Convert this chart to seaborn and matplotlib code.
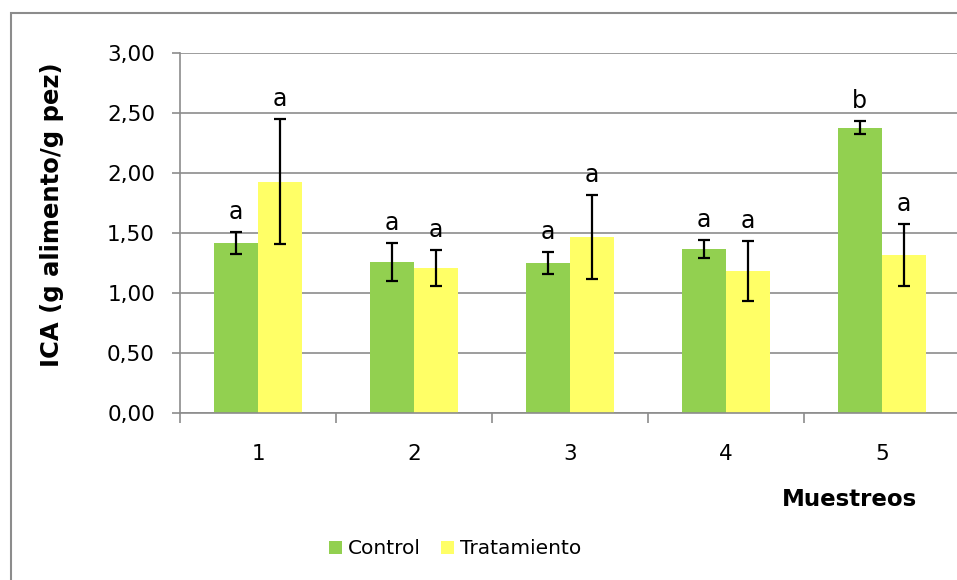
import pandas as pd
import matplotlib
matplotlib.use("Agg")
import matplotlib.pyplot as plt
import seaborn as sns
from matplotlib.patches import Rectangle
from matplotlib.ticker import FuncFormatter, MultipleLocator, FixedLocator

# data
muestreos = ["1", "2", "3", "4", "5"]
control = [1.42, 1.26, 1.25, 1.37, 2.38]
control_err = [0.09, 0.16, 0.09, 0.075, 0.053]
tratamiento = [1.93, 1.21, 1.47, 1.185, 1.32]
tratamiento_err = [0.52, 0.15, 0.35, 0.25, 0.26]
letras_control = ["a", "a", "a", "a", "b"]
letras_tratamiento = ["a", "a", "a", "a", "a"]
grupos = ["Control", "Tratamiento"]
colores = ["#92D050", "#FFFF66"]

df = pd.DataFrame({
    "muestreo": muestreos * 2,
    "grupo": [grupos[0]] * 5 + [grupos[1]] * 5,
    "ica": control + tratamiento,
})

sns.set_style("white")
plt.rcParams["font.family"] = ["DejaVu Sans"]
plt.rcParams["text.color"] = "black"
plt.rcParams["xtick.color"] = "black"
plt.rcParams["ytick.color"] = "black"
plt.rcParams["axes.labelcolor"] = "black"

fig = plt.figure(figsize=(9.57, 5.8), dpi=100)
W, H = 957, 580
ax = fig.add_axes([180 / W, 1 - 413.3 / H, 780 / W, 360 / H])

sns.barplot(data=df, x="muestreo", y="ica", hue="grupo", palette=colores,
            width=0.57, gap=0, saturation=1, errorbar=None, linewidth=0, ax=ax)

# error bars and significance letters on top of each bar
errs = [control_err, tratamiento_err]
letras = [letras_control, letras_tratamiento]
for cont, err, let in zip(ax.containers, errs, letras):
    for bar, e, l in zip(cont.patches, err, let):
        xc = bar.get_x() + bar.get_width() / 2
        h = bar.get_height()
        ax.errorbar(xc, h, yerr=e, fmt="none", ecolor="black", elinewidth=1.6,
                    capsize=4.5, capthick=1.6, zorder=4)
        ax.annotate(l, (xc, h + e), xytext=(0, 9.5), textcoords="offset points",
                    ha="center", va="baseline", fontsize=17)

ax.set_ylim(0, 3)
ax.set_xlim(-0.5, 4.5)
ax.yaxis.set_major_locator(MultipleLocator(0.5))
ax.yaxis.set_major_formatter(FuncFormatter(lambda v, p: f"{v:.2f}".replace(".", ",")))
ax.grid(axis="y", color="#8c8c8c", linewidth=1.2)
ax.set_axisbelow(True)

for s in ["top", "right"]:
    ax.spines[s].set_visible(False)
for s in ["left", "bottom"]:
    ax.spines[s].set_color("#8c8c8c")
    ax.spines[s].set_linewidth(1.2)

ax.tick_params(axis="y", left=True, length=6, width=1.2, color="#8c8c8c",
               labelcolor="black", labelsize=15.5, pad=12)
ax.tick_params(axis="x", which="major", length=0, labelcolor="black",
               labelsize=15.5, pad=22)
ax.xaxis.set_minor_locator(FixedLocator([i - 0.5 for i in range(6)]))
ax.tick_params(axis="x", which="minor", bottom=True, length=7, width=1.2,
               color="#8c8c8c")

ax.set_xlabel("")
ax.set_ylabel("ICA (g alimento/g pez)", fontsize=17.5, fontweight="bold")
ax.yaxis.set_label_coords((64 - 180) / 780, 0.553)

handles, labels = ax.get_legend_handles_labels()
ax.get_legend().remove()
fig.legend(handles, labels, loc="center", bbox_to_anchor=(455 / W, 1 - 549 / H),
           ncol=2, frameon=False, fontsize=14.5, handlelength=0.65,
           handleheight=0.65, handletextpad=0.3, columnspacing=1.0)

fig.text(850 / W, 1 - 500 / H, "Muestreos", ha="center", va="center",
         fontsize=16.5, fontweight="bold")

# outer chart frame (cut off at right and bottom like the reference)
fig.patches.append(Rectangle((10.5 / W, -0.05), 1.1, 1 - 13 / H + 0.05,
                             transform=fig.transFigure, fill=False,
                             edgecolor="#8c8c8c", linewidth=1.5))

fig.savefig("out.png", dpi=100)
